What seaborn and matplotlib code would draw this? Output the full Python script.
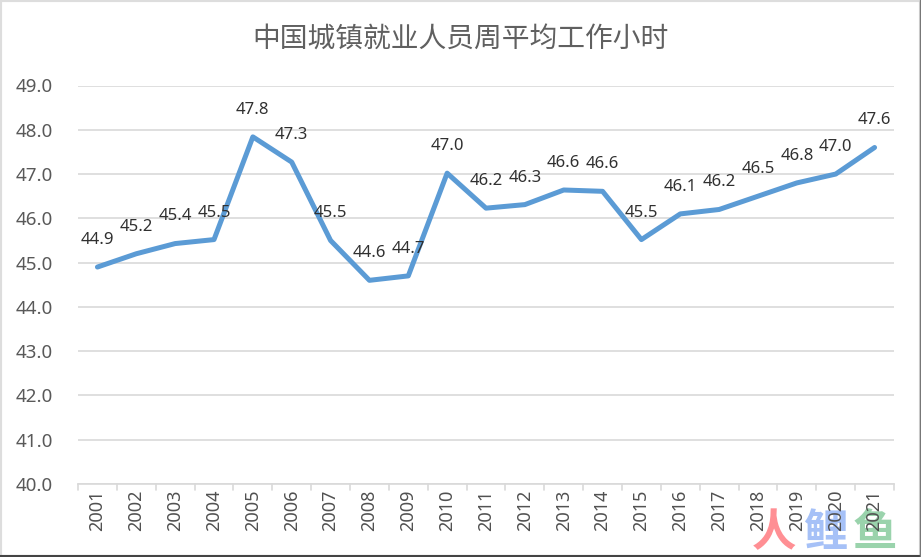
import matplotlib
matplotlib.use("Agg")
import matplotlib.pyplot as plt
from matplotlib.patches import Rectangle
import pandas as pd
import seaborn as sns

years = [str(y) for y in range(2001, 2022)]
hours = [44.90, 45.20, 45.43, 45.52, 47.84, 47.27, 45.50, 44.60, 44.70, 47.02, 46.23,
         46.31, 46.64, 46.61, 45.52, 46.10, 46.20, 46.50, 46.80, 47.00, 47.60]
y_ticks = [40, 41, 42, 43, 44, 45, 46, 47, 48, 49]
title = "中国城镇就业人员周平均工作小时"

df = pd.DataFrame({"year": years, "hours": hours})

sns.set_theme(style="white")
plt.rcParams["font.family"] = ["Noto Sans CJK SC", "DejaVu Sans"]
latin = ["Noto Sans", "DejaVu Sans"]

fig = plt.figure(figsize=(9.21, 5.57), dpi=100)
ax = fig.add_axes([78 / 921, 1 - 484 / 557, (894 - 78) / 921, (484 - 85.5) / 557])

sns.lineplot(data=df, x="year", y="hours", color="#5B9BD5", linewidth=3.6, sort=False, ax=ax)

# value labels sit a fixed distance above each point
for year, h in zip(years, hours):
    ax.annotate(f"{h:.1f}", (year, h), xytext=(0, 19.5), textcoords="offset points",
                ha="center", va="center", fontsize=12, color="#303030", family=latin)

ax.set_xlim(-0.5, len(years) - 0.5)
ax.set_ylim(40, 49)
ax.set_yticks(y_ticks)
ax.set_yticklabels([f"{t:.1f}" for t in y_ticks], fontsize=13.5, color="#595959", family=latin)
ax.set_xticks(range(len(years)))
ax.set_xticklabels(years, rotation=90, fontsize=13, color="#505050", family=latin)
ax.set_xlabel("")
ax.set_ylabel("")
ax.grid(axis="y", color="#D9D9D9", linewidth=1.2)
ax.set_axisbelow(True)
sns.despine(ax=ax, left=True, top=True, right=True)
ax.spines["bottom"].set_color("#D9D9D9")
ax.spines["bottom"].set_linewidth(1.2)

# ticks fall between the categories, like the spreadsheet axis
ax.tick_params(axis="y", length=0, pad=18)
ax.tick_params(axis="x", length=0, pad=4)
for edge in range(len(years) + 1):
    ax.plot([edge - 0.5, edge - 0.5], [0, -0.016], transform=ax.get_xaxis_transform(),
            color="#D9D9D9", linewidth=1.2, clip_on=False)

fig.text(460 / 921, 1 - 40 / 557, title, ha="center", va="center", fontsize=20, color="#606060")

# watermark over the bottom right corner, behind the year labels
for x, ch, col in [(774, "人", "#FF8F94"), (825, "鲤", "#A6C1F7"), (875, "鱼", "#9AD3AC")]:
    fig.text(x / 921, 1 - 533 / 557, ch, ha="center", va="center", fontsize=32,
             color=col, fontweight="bold", zorder=-1)

# screenshot frame
fig.add_artist(Rectangle((0, 0), 1, 1, transform=fig.transFigure, fill=False,
                         edgecolor="#DDDDDD", linewidth=3))
fig.add_artist(plt.Line2D([0, 1], [1.5 / 557, 1.5 / 557], color="#444444", linewidth=1.5))
fig.add_artist(plt.Line2D([1 - 1 / 921, 1 - 1 / 921], [0, 1], color="#777777", linewidth=1))

fig.savefig("out.png", dpi=100)
